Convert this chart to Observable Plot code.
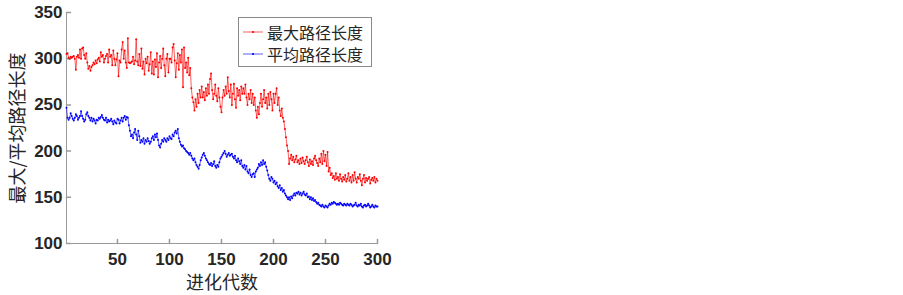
<!DOCTYPE html>
<html>
<head>
<meta charset="utf-8">
<script src="https://cdn.jsdelivr.net/npm/d3@7"></script>
<script src="https://cdn.jsdelivr.net/npm/@observablehq/plot@0.6"></script>
<style>
  html, body { margin: 0; padding: 0; background: #fff; }
  #wrap { position: relative; width: 903px; height: 295px; }
  #legend {
    position: absolute; left: 238px; top: 17px; width: 132px; height: 48px;
    border: 1px solid #8a8a8a; background: #fff; box-sizing: content-box;
    font-family: "Noto Sans CJK SC", sans-serif; font-size: 16px; color: #262626;
  }
  .row { position: absolute; left: 0; height: 22px; display: flex; align-items: center; }
  .row svg { margin-left: 4px; margin-right: 4px; }
</style>
</head>
<body>
<div id="wrap"><div id="chart"></div><div id="legend"></div></div>
<script>
const seriesNames = ["最大路径长度", "平均路径长度"];
const seriesColors = ["#ff0000", "#0000ff"];
const xTicks = [50, 100, 150, 200, 250, 300];
const yTicks = [100, 150, 200, 250, 300, 350];
const xLabel = "进化代数";
const yLabel = "最大/平均路径长度";

const maxLen = [
  305, 306, 301, 300, 302, 301, 302, 303, 300, 288,
  302, 304, 301, 310, 300, 311, 312, 304, 300, 306,
  296, 289, 292, 287, 291, 293, 296, 294, 298, 295,
  299, 301, 297, 307, 302, 304, 296, 300, 303, 305,
  296, 310, 302, 304, 293, 309, 300, 293, 299, 306,
  281, 298, 296, 310, 318, 300, 309, 296, 290, 322,
  296, 295, 296, 297, 302, 294, 298, 321, 297, 293,
  305, 292, 311, 289, 297, 283, 300, 295, 302, 287,
  294, 307, 284, 297, 283, 299, 291, 306, 280, 296,
  303, 290, 300, 311, 293, 281, 300, 305, 285, 300,
  300, 296, 312, 316, 298, 280, 295, 306, 288, 304,
  296, 310, 269, 312, 290, 296, 285, 301, 282, 290,
  268, 258, 253, 244, 256, 248, 262, 252, 266, 258,
  270, 258, 264, 255, 268, 260, 272, 262, 278, 284,
  266, 256, 262, 272, 260, 254, 268, 258, 248, 242,
  258, 266, 260, 270, 262, 280, 265, 258, 272, 250,
  262, 273, 256, 247, 268, 260, 266, 255, 270, 262,
  268, 262, 272, 258, 250, 262, 256, 266, 252, 262,
  250, 258, 244, 236, 248, 240, 252, 262, 248, 256,
  266, 252, 258, 246, 262, 250, 264, 256, 244, 262,
  252, 262, 268, 250, 258, 244, 238, 246, 236, 232,
  224, 215, 206, 200, 186, 192, 196, 190, 194, 188,
  191, 195, 188, 190, 186, 192, 187, 193, 189, 186,
  190, 194, 188, 184, 191, 186, 189, 185, 192, 195,
  190, 187, 184, 192, 188, 197, 186, 200, 189, 196,
  184, 199, 178, 182, 174, 176, 171, 173, 169, 176,
  170, 172, 168, 175, 170, 167, 172, 169, 174, 167,
  170, 176, 168, 172, 166, 174, 168, 177, 170, 166,
  172, 170, 175, 168, 163, 170, 174, 166, 171, 168,
  170, 172, 165, 169, 171, 168, 172, 166, 170, 168
];

const avgLen = [
  247, 236, 234, 236, 241, 238, 235, 233, 236, 240,
  238, 234, 236, 238, 243, 238, 235, 232, 234, 240,
  242, 238, 236, 233, 236, 232, 235, 233, 230, 234,
  233, 236, 235, 237, 239, 236, 234, 233, 236, 231,
  234, 232, 233, 235, 232, 229, 233, 231, 230, 235,
  234, 230, 233, 236, 232, 236, 238, 234, 237, 236,
  228, 222, 216, 218, 214, 220, 224, 218, 212, 222,
  216, 209, 212, 210, 214, 208, 212, 210, 214, 211,
  208, 210, 214, 216, 212, 218, 215, 219, 212, 206,
  204, 208, 212, 210, 214, 212, 210, 214, 212, 216,
  214, 213, 218, 216, 220, 222, 219, 224, 214, 210,
  207, 205, 206, 203, 202, 200, 199, 198, 196, 198,
  195, 192, 190, 192, 188, 185, 183, 181, 185, 190,
  193, 196, 198, 195, 192, 190, 188, 186, 185, 187,
  184, 186, 189, 184, 182, 185, 183, 188, 192, 194,
  196, 198, 200, 197, 194, 196, 198, 195, 196, 197,
  194, 192, 195, 190, 188, 192, 189, 186, 190, 184,
  182, 185, 180, 184, 178, 176, 180, 174, 172, 175,
  176, 172, 178, 180, 182, 186, 184, 188, 185, 190,
  186, 188, 183, 179, 174, 170, 168, 172, 170, 166,
  168, 164, 166, 162, 160, 163, 158, 160, 156, 158,
  154, 152, 150, 148, 150, 147, 151, 149, 152, 154,
  152, 155, 154, 156, 153, 155, 152, 154, 156, 153,
  152, 154, 150, 151, 148, 150, 147, 149, 146, 147,
  145, 143, 144, 142, 141, 140, 142, 140, 139, 141,
  140, 139, 141, 143, 142, 144, 143, 145, 144, 143,
  142, 143, 142, 144, 143, 142, 141, 143, 142, 141,
  143, 142, 141, 143, 142, 140, 141, 142, 144, 141,
  140, 142, 141, 143, 140, 139, 141, 142, 140, 141,
  143, 141, 139, 140, 142, 140, 139, 141, 140, 140
];

const rows = [];
[maxLen, avgLen].forEach((arr, s) => arr.forEach((v, i) => rows.push({gen: i + 1, value: v, series: seriesNames[s]})));

const axisColor = "#9a9a9a";
const textColor = "#262626";
const tickShape = {draw(context, l) { context.moveTo(0, 0); context.lineTo(0, -l); }};

const chart = Plot.plot({
  width: 903,
  height: 295,
  marginLeft: 66,
  marginRight: 526,
  marginTop: 12,
  marginBottom: 52,
  style: {fontFamily: "'Liberation Sans', Arial, sans-serif", background: "#fff", color: textColor},
  x: {domain: [1, 300]},
  y: {domain: [100, 350]},
  color: {domain: seriesNames, range: seriesColors},
  marks: [
    Plot.ruleX([1], {stroke: axisColor, strokeWidth: 1}),
    Plot.ruleY([100], {stroke: axisColor, strokeWidth: 1}),
    Plot.vector(xTicks, {x: d => d, y: 100, length: 4, rotate: 0, anchor: "start", shape: tickShape, stroke: axisColor}),
    Plot.vector(yTicks, {x: 1, y: d => d, length: 4, rotate: 90, anchor: "start", shape: tickShape, stroke: axisColor}),
    Plot.axisX({ticks: xTicks, tickSize: 0, tickPadding: 9, fontSize: 17, fontWeight: "bold", fill: textColor, label: null}),
    Plot.axisY({ticks: yTicks, tickSize: 0, tickPadding: 4, fontSize: 17, fontWeight: "bold", fill: textColor, label: null}),
    Plot.line(rows, {x: "gen", y: "value", z: "series", stroke: "series", strokeWidth: 0.8, strokeOpacity: 0.8}),
    Plot.dot(rows, {x: "gen", y: "value", fill: "series", r: 1, stroke: null}),
    Plot.text([xLabel], {frameAnchor: "bottom", dy: 40, lineAnchor: "middle", textAnchor: "middle", text: d => d, fontSize: 18, fontFamily: "'Noto Sans CJK SC', sans-serif", fill: textColor}),
    Plot.text([yLabel], {frameAnchor: "left", dx: -48, rotate: -90, textAnchor: "middle", lineAnchor: "middle", text: d => d, fontSize: 18, fontFamily: "'Noto Sans CJK SC', sans-serif", fill: textColor})
  ]
});
document.getElementById("chart").appendChild(chart);

const legend = document.getElementById("legend");
seriesNames.forEach((name, i) => {
  const row = document.createElement("div");
  row.className = "row";
  row.style.top = (i === 0 ? 3 : 25) + "px";
  row.innerHTML = `<svg width="20" height="10"><line x1="0" y1="5" x2="20" y2="5" stroke="${seriesColors[i]}" stroke-width="0.8" stroke-opacity="0.8"/><circle cx="10" cy="5" r="1.1" fill="${seriesColors[i]}"/></svg><span>${name}</span>`;
  legend.appendChild(row);
});
</script>
</body>
</html>
